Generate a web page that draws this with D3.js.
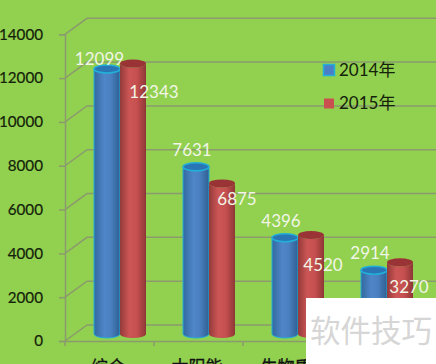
<!DOCTYPE html>
<html>
<head>
<meta charset="utf-8">
<script src="https://d3js.org/d3.v7.min.js"></script>
<style>
html,body{margin:0;padding:0;background:#92d050;}
svg{display:block;}
text{font-family:Lato,"Noto Sans CJK SC",sans-serif;}
</style>
</head>
<body>
  <div id="my_dataviz"></div>
  <script>
    // 4th category label is hidden behind the watermark box
    var categories = ["综合","太阳能","生物质",""];
    var seriesNames = ["2014年","2015年"];
    var values2014 = [12099,7631,4396,2914];
    var values2015 = [12343,6875,4520,3270];
    var yTicks = [0,2000,4000,6000,8000,10000,12000,14000];
    var watermark = "软件技巧";

    var width = 436, height = 364;
    var gridColor = "#8b9b6d";
    var depth = {x:22,y:-16};

    // hand placed data labels, offset from the bar's top centre
    var labelOffset = [
      [[-7.5,-10],[-4,-17],[-4,-17],[-4,-17]],
      [[21,28],[15,16],[12,30],[9,25]]
    ];

    var svg = d3.select("#my_dataviz")
      .append("svg")
      .attr("width",width)
      .attr("height",height);

    var x = d3.scaleBand().domain(d3.range(categories.length)).range([65,421]);
    var xInner = d3.scaleBand().domain([0,1]).range([29,81]);
    var y = d3.scaleLinear().domain([0,14000]).range([341,34.3]);

    var defs = svg.append("defs");
    function cylGradient(id,stops){
      var g = defs.append("linearGradient").attr("id",id);
      stops.forEach(function(s){
        g.append("stop").attr("offset",s[0]).attr("stop-color",s[1]);
      });
    }
    cylGradient("blueBody",[[0,"#33699f"],[0.4,"#4f86c8"],[0.65,"#4a80c0"],[1,"#2f5f92"]]);
    cylGradient("redBody",[[0,"#933a3a"],[0.35,"#cc5555"],[0.65,"#c64f4f"],[1,"#8e3636"]]);

    // walls and gridlines
    var grid = svg.append("g");
    grid.selectAll(".back").data(yTicks).enter().append("path")
      .attr("class","back")
      .attr("fill","none")
      .attr("stroke",gridColor)
      .attr("stroke-width",1.5)
      .attr("d",function(d){
        return "M65,"+y(d)+"L"+(65+depth.x)+","+(y(d)+depth.y)+"L"+width+","+(y(d)+depth.y);
      });

    var yAxis = svg.append("g")
      .attr("transform","translate(65,0)")
      .call(d3.axisLeft(y).tickValues(yTicks).tickFormat(d3.format("d")).tickSize(6).tickPadding(16));
    var xAxis = svg.append("g")
      .attr("transform","translate(0,341)")
      .call(d3.axisBottom(x).tickValues([]).tickSizeOuter(0));
    xAxis.selectAll(".xt").data(d3.range(categories.length)).enter().append("line")
      .attr("class","xt")
      .attr("x1",function(d){return x(d);})
      .attr("x2",function(d){return x(d);})
      .attr("y1",0).attr("y2",5);
    xAxis.selectAll(".xt").attr("stroke",gridColor).attr("stroke-width",1.5);
    svg.selectAll(".domain").attr("stroke",gridColor).attr("stroke-width",1.5);
    yAxis.selectAll(".tick line").attr("stroke",gridColor).attr("stroke-width",1.5);
    yAxis.selectAll("text")
      .attr("fill","#14220a")
      .attr("stroke","#14220a")
      .attr("stroke-width",0.2)
      .attr("font-size",15.2);

    svg.selectAll(".cat").data(categories.filter(function(c){return c!="";})).enter().append("text")
      .attr("class","cat")
      .attr("x",function(d,i){return x(i)+43;})
      .attr("y",373)
      .attr("text-anchor","middle")
      .attr("font-size",17)
      .attr("fill","#111")
      .attr("stroke","#111")
      .attr("stroke-width",0.3)
      .text(function(d){return d;});

    // cylinders
    var rx = 13, ry = 4, baseLift = 7;
    var series = [
      {values:values2014,body:"url(#blueBody)",top:"#2a76b4",edge:"#22b0d8"},
      {values:values2015,body:"url(#redBody)",top:"#993335",edge:"none"}
    ];

    series.forEach(function(s,si){
      var bars = svg.append("g").selectAll("g").data(s.values).enter().append("g");
      function cx(i){return x(i)+xInner(si)+xInner.bandwidth()/2;}
      bars.append("path")
        .attr("fill",s.body)
        .attr("stroke",s.edge)
        .attr("stroke-width",1)
        .attr("d",function(d,i){
          var c = cx(i), t = y(d)-baseLift, b = y(0)-baseLift;
          return "M"+(c-rx)+","+t+"L"+(c-rx)+","+b
            +"A"+rx+","+ry+" 0 0 0 "+(c+rx)+","+b
            +"L"+(c+rx)+","+t
            +"A"+rx+","+ry+" 0 0 1 "+(c-rx)+","+t+"Z";
        });
      bars.append("ellipse")
        .attr("cx",function(d,i){return cx(i);})
        .attr("cy",function(d){return y(d)-baseLift;})
        .attr("rx",rx).attr("ry",ry)
        .attr("fill",s.top)
        .attr("stroke",s.edge)
        .attr("stroke-width",1.5);
    });

    // data labels on top of both series
    series.forEach(function(s,si){
      svg.append("g").selectAll("text").data(s.values).enter().append("text")
        .attr("x",function(d,i){return x(i)+xInner(si)+xInner.bandwidth()/2+labelOffset[si][i][0];})
        .attr("y",function(d,i){return y(d)-baseLift+labelOffset[si][i][1];})
        .attr("dy",".35em")
        .attr("text-anchor","middle")
        .attr("font-size",17)
        .attr("fill","#f1f6e6")
        .text(function(d){return d;});
    });

    // legend
    var legend = svg.selectAll(".legend").data(seriesNames).enter().append("g")
      .attr("class","legend")
      .attr("transform",function(d,i){return "translate(0,"+(70+i*33.5)+")";});
    legend.append("rect")
      .attr("x",function(d,i){return i==0?323.5:324;})
      .attr("y",function(d,i){return i==0?-5.5:-5;})
      .attr("width",function(d,i){return i==0?11:10;})
      .attr("height",function(d,i){return i==0?11:10;})
      .attr("fill",function(d,i){return i==0?"#4a7fc8":"#c9504f";})
      .attr("stroke",function(d,i){return i==0?"#22b0d8":"none";})
      .attr("stroke-width",1.5);
    legend.append("text")
      .attr("x",339)
      .attr("dy",".35em")
      .attr("font-size",17)
      .attr("fill","#14220a")
      .text(function(d){return d;});

    // watermark box
    svg.append("rect")
      .attr("x",306).attr("y",298)
      .attr("width",width-306).attr("height",height-298)
      .attr("fill","#fff");
    svg.append("text")
      .attr("x",371).attr("y",342)
      .attr("text-anchor","middle")
      .attr("font-size",30.5)
      .attr("fill","#d6d6d6")
      .style("font-family","'Noto Sans CJK SC'")
      .text(watermark);
  </script>
</body>
</html>
